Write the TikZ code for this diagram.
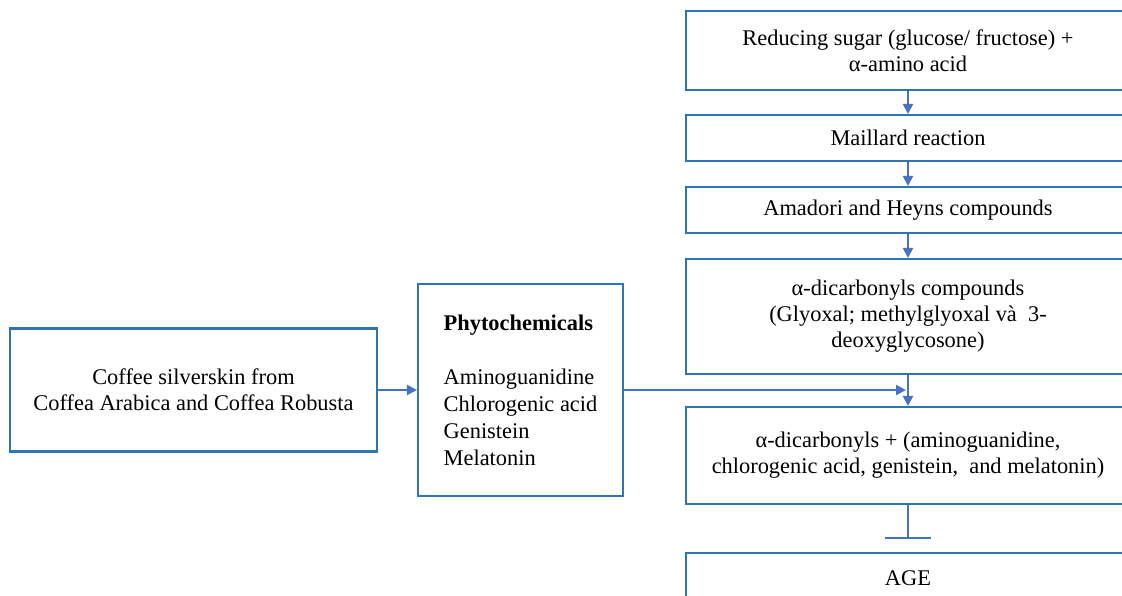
\documentclass[tikz,border=0pt]{standalone}
\usepackage{fontspec}
\setmainfont{Liberation Serif}
\usetikzlibrary{arrows.meta}
\definecolor{boxblue}{RGB}{46,117,182}
\definecolor{arrblue}{RGB}{68,114,196}
\tikzset{
  stepbox/.style={draw=boxblue, line width=2.1pt, fill=white, inner sep=0pt, align=center,
    font=\fontsize{22.4}{26}\selectfont},
  conn/.style={draw=arrblue, line width=2pt, -{Triangle[length=10pt,width=10pt]}},
  inhib/.style={draw=arrblue, line width=2pt, -{Bar[width=46pt]}}
}
\begin{document}
\begin{tikzpicture}[x=1pt,y=-1pt]
\useasboundingbox (0,0) rectangle (1122,595);
\begin{scope}
\clip (0,0) rectangle (1122,595);
\node[stepbox, minimum width=367pt, minimum height=123pt] (cof) at (193.5,390)
  {Coffee silverskin from\\Coffea Arabica and Coffea Robusta};
\node[stepbox, minimum width=205pt, minimum height=212pt, align=left,
  font=\fontsize{22.4}{27}\selectfont] (phy) at (520.5,390)
  {\textbf{Phytochemicals}\\[27pt]Aminoguanidine\\Chlorogenic acid\\Genistein\\Melatonin};
\node[stepbox, minimum width=444pt, minimum height=79pt] (r1) at (908,50.5)
  {Reducing sugar (glucose/ fructose) +\\α-amino acid};
\node[stepbox, minimum width=444pt, minimum height=46pt] (r2) at (908,138)
  {Maillard reaction};
\node[stepbox, minimum width=444pt, minimum height=46pt] (r3) at (908,210)
  {Amadori and Heyns compounds};
\node[stepbox, minimum width=444pt, minimum height=115pt] (r4) at (908,316.5)
  {α-dicarbonyls compounds\\(Glyoxal; methylglyoxal và\ \ 3-\\deoxyglycosone)};
\node[stepbox, minimum width=444pt, minimum height=97pt] (r5) at (908,455.5)
  {α-dicarbonyls + (aminoguanidine,\\chlorogenic acid, genistein,\ \ and melatonin)};
\node[stepbox, minimum width=444pt, minimum height=50pt] (age) at (908,578)
  {AGE};
\coordinate (join) at (906,390);
\coordinate (inh) at (908,539);
\draw[conn] (cof.east) -- (phy.west);
\draw[conn] (r1.south) -- (r2.north);
\draw[conn] (r2.south) -- (r3.north);
\draw[conn] (r3.south) -- (r4.north);
\draw[conn] (r4.south) -- (r5.north);
\draw[conn] (phy.east |- join) -- (join);
\draw[inhib] (r5.south) -- (inh);
\end{scope}
\end{tikzpicture}
\end{document}
